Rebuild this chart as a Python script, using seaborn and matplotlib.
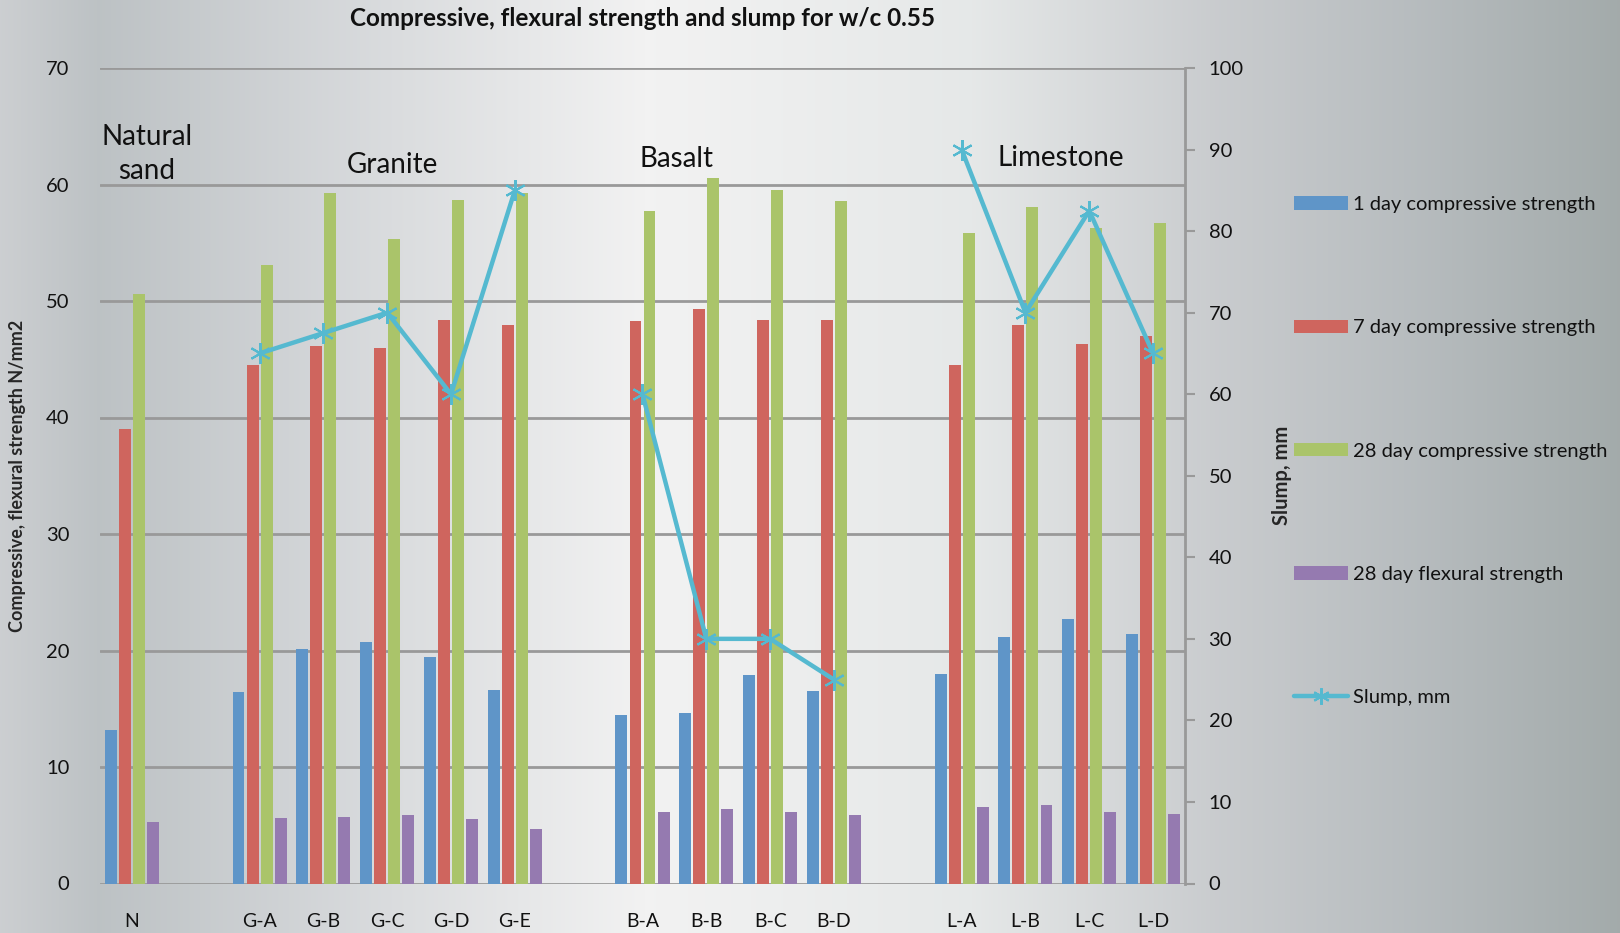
import numpy as np
import pandas as pd
import matplotlib
matplotlib.use("Agg")
import matplotlib.pyplot as plt
from matplotlib.patches import Patch
from matplotlib.lines import Line2D
import seaborn as sns


# ==========================================================
# DATA
# ==========================================================

MIXES = ["N", "G-A", "G-B", "G-C", "G-D", "G-E",
         "B-A", "B-B", "B-C", "B-D", "L-A", "L-B", "L-C", "L-D"]
GROUPS = ["Natural sand",
          "Granite", "Granite", "Granite", "Granite", "Granite",
          "Basalt", "Basalt", "Basalt", "Basalt",
          "Limestone", "Limestone", "Limestone", "Limestone"]

# slots on the x axis, blank ones separate the aggregate groups
ORDER = ["N", " ",
         "G-A", "G-B", "G-C", "G-D", "G-E", "  ",
         "B-A", "B-B", "B-C", "B-D", "   ",
         "L-A", "L-B", "L-C", "L-D"]

DAY1 = [13.2, 16.4, 20.1, 20.7, 19.4, 16.6, 14.5, 14.6, 17.9, 16.5, 18.0, 21.2, 22.7, 21.4]
DAY7 = [39.0, 44.5, 46.1, 46.0, 48.4, 47.9, 48.3, 49.3, 48.4, 48.4, 44.5, 47.9, 46.3, 47.0]
DAY28 = [50.6, 53.1, 59.3, 55.3, 58.7, 59.3, 57.7, 60.6, 59.5, 58.6, 55.8, 58.1, 56.3, 56.7]
FLEX28 = [5.3, 5.65, 5.75, 5.9, 5.5, 4.7, 6.1, 6.4, 6.1, 5.9, 6.6, 6.7, 6.1, 6.0]
SLUMP = [np.nan, 65, 67.5, 70, 60, 85, 60, 30, 30, 25, 90, 70, 82.5, 65]

SERIES = ["1 day compressive strength", "7 day compressive strength",
          "28 day compressive strength", "28 day flexural strength"]
COLORS = ["#5f95c8", "#cf655e", "#aac46a", "#957ab0"]
SLUMP_COLOR = "#55b9d0"

GROUP_LABELS = ["Natural\nsand", "Granite", "Basalt", "Limestone"]
GROUP_LABEL_POS = [(0.23, 62.6), (4.08, 61.7), (8.54, 62.2), (14.55, 62.3)]


# ==========================================================
# BUILD TABLE
# ==========================================================

rows = []
for name, vals in zip(SERIES, [DAY1, DAY7, DAY28, FLEX28]):
    for mix, v in zip(MIXES, vals):
        rows.append({"mix": mix, "series": name, "value": v})
df = pd.DataFrame(rows)
df["mix"] = pd.Categorical(df["mix"], categories=ORDER)


# ==========================================================
# PLOT
# ==========================================================

sns.set_style("white")
plt.rcParams["font.family"] = ["Lato", "DejaVu Sans"]

fig = plt.figure(figsize=(16.2, 9.33), dpi=100)

# background gradient
bg = fig.add_axes([0, 0, 1, 1], zorder=-10)
stops_x = [0.0, 0.06, 0.2, 0.4, 0.6, 0.75, 0.87, 1.0]
stops_c = [(0.80, 0.81, 0.82), (0.74, 0.76, 0.77), (0.83, 0.84, 0.85),
           (0.95, 0.95, 0.95), (0.90, 0.91, 0.91), (0.79, 0.80, 0.81),
           (0.72, 0.74, 0.75), (0.64, 0.67, 0.67)]
xs = np.linspace(0, 1, 600)
grad = np.stack([np.interp(xs, stops_x, [c[i] for c in stops_c]) for i in range(3)], axis=-1)
bg.imshow(grad[np.newaxis, :, :], aspect="auto", extent=[0, 1, 0, 1])
bg.axis("off")

ax = fig.add_axes([100 / 1620, 1 - 883.5 / 933, 1085 / 1620, 815.5 / 933])
ax.patch.set_alpha(0)

sns.barplot(data=df, x="mix", y="value", hue="series", order=ORDER,
            hue_order=SERIES, palette=COLORS, saturation=1,
            width=0.88, gap=0.15, legend=False, ax=ax, zorder=3, linewidth=0)

ax.set_ylim(0, 70)
ax.set_yticks(range(0, 71, 10))
ax.yaxis.grid(True, color="#999999", linewidth=2)
ax.set_axisbelow(True)
for s in ["left", "right", "top", "bottom"]:
    ax.spines[s].set_visible(False)
ax.tick_params(axis="y", length=0, labelsize=14.5, pad=22, labelcolor="#111111")
ax.tick_params(axis="x", length=0, labelsize=14, pad=21, labelcolor="#111111")
ax.set_xlabel("")
ax.set_ylabel("Compressive, flexural strength N/mm2", fontsize=13,
              fontweight="bold", labelpad=14)

# group names
for label, (gx, gy) in zip(GROUP_LABELS, GROUP_LABEL_POS):
    ax.text(gx, gy, label, fontsize=20, ha="center", va="center",
            color="#111111", linespacing=1.4)

# slump on the secondary axis
ax2 = ax.twinx()
ax2.patch.set_alpha(0)
pos = [ORDER.index(m) for m in MIXES]
line_df = pd.DataFrame({"pos": pos, "slump": SLUMP, "group": GROUPS}).dropna()
for g, sub in line_df.groupby("group", sort=False):
    ax2.plot(sub["pos"], sub["slump"], color=SLUMP_COLOR, linewidth=3.2,
             marker=(6, 2, 0), markersize=15, markeredgewidth=1.5,
             markeredgecolor=SLUMP_COLOR, zorder=5)
ax2.set_ylim(0, 100)
ax2.set_yticks(range(0, 101, 10))
for s in ["left", "top", "bottom"]:
    ax2.spines[s].set_visible(False)
ax2.spines["right"].set_color("#999999")
ax2.spines["right"].set_linewidth(2)
ax2.tick_params(axis="y", length=7, width=1.5, color="#999999", direction="out",
                labelsize=14.5, pad=10, labelcolor="#111111")
ax2.set_ylabel("Slump, mm", fontsize=14.5, fontweight="bold", labelpad=20)
ax2.set_xlim(-0.5, len(ORDER) - 0.5)

fig.text(643 / 1620, 1 - 19 / 933, "Compressive, flexural strength and slump for w/c 0.55",
         fontsize=17.5, fontweight="bold", ha="center", va="center", color="#111111")

# legend
handles = [Patch(facecolor=c, edgecolor="none") for c in COLORS]
handles.append(Line2D([0], [0], color=SLUMP_COLOR, linewidth=3.2,
                      marker=(6, 2, 0), markersize=12, markeredgewidth=1.5))
fig.legend(handles, SERIES + ["Slump, mm"], loc="upper left",
           bbox_to_anchor=(1294 / 1620, 1 - 196 / 933), frameon=False,
           fontsize=14.5, labelspacing=5.28, handlelength=2.7, handleheight=0.65,
           handletextpad=0.25, borderpad=0, borderaxespad=0, labelcolor="#111111")

fig.savefig("out.png", dpi=100)
